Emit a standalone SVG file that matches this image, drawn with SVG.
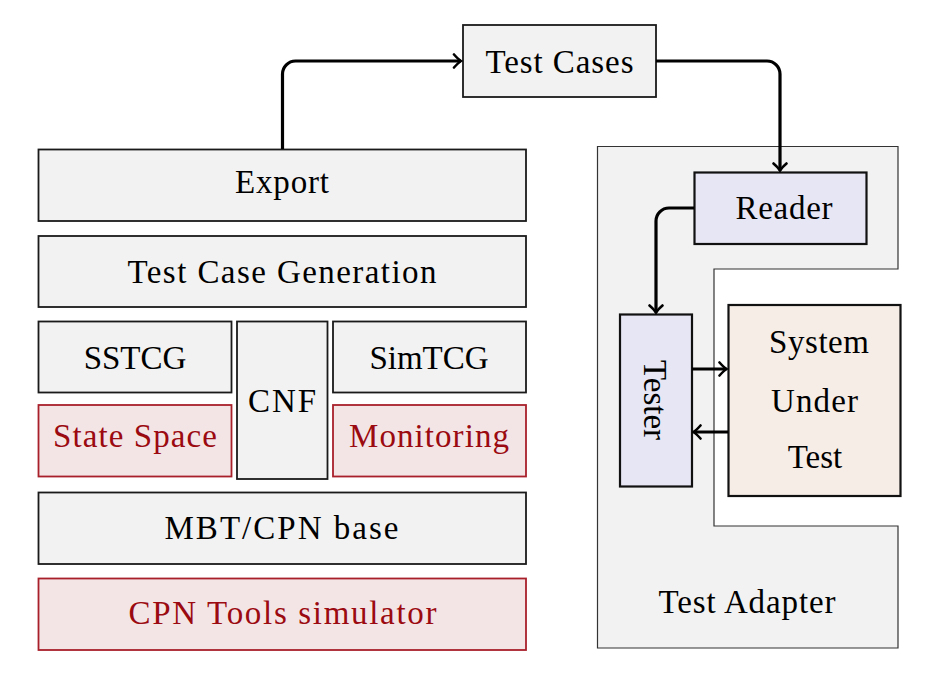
<svg xmlns="http://www.w3.org/2000/svg" width="946" height="680" viewBox="0 0 946 680">
<defs>
<style>
.box{fill:#f2f2f2;stroke:#1a1a1a;stroke-width:1.8}
.red{fill:#f3e5e6;stroke:#a8202a;stroke-width:1.8}
.lav{fill:#e6e6f4;stroke:#111;stroke-width:2.2}
.sut{fill:#f6ede6;stroke:#111;stroke-width:2.2}
.adapter{fill:#f2f2f2;stroke:#333;stroke-width:1.2}
text{font-family:"Liberation Serif","DejaVu Serif",serif;font-size:33px;fill:#000;text-anchor:middle}
.rt{fill:#9b0a10}
.conn{fill:none;stroke:#000;stroke-width:3.2}
</style>
<marker id="arr" viewBox="-10 -8 12 16" markerWidth="12" markerHeight="16" refX="0" refY="0" orient="auto" markerUnits="userSpaceOnUse">
<path d="M-7,-6.5 Q-2.5,-1.5 0,0 Q-2.5,1.5 -7,6.5" fill="none" stroke="#000" stroke-width="2.6" stroke-linecap="round"/>
</marker>
</defs>

<g id="test-adapter">
<path class="adapter" d="M597.5,146.5 H898 V269 H714 V526 H898 V648 H597.5 Z"/>
<text x="747" y="613" textLength="177" lengthAdjust="spacing">Test Adapter</text>
</g>

<g id="test-cases">
<rect class="box" x="463" y="25" width="193" height="72"/>
<text x="559.5" y="73" textLength="148" lengthAdjust="spacing">Test Cases</text>
</g>

<g id="export">
<rect class="box" x="38.5" y="149.5" width="487.5" height="71.5"/>
<text x="282" y="193" textLength="94" lengthAdjust="spacing">Export</text>
</g>

<g id="test-case-generation">
<rect class="box" x="38.5" y="236" width="487.5" height="71"/>
<text x="282" y="283" textLength="309" lengthAdjust="spacing">Test Case Generation</text>
</g>

<g id="sstcg">
<rect class="box" x="38.5" y="321.5" width="193" height="71"/>
<text x="135" y="369">SSTCG</text>
</g>

<g id="cnf">
<rect class="box" x="237" y="321.5" width="90.5" height="157.5"/>
<text x="282" y="411.5" textLength="68" lengthAdjust="spacing">CNF</text>
</g>

<g id="simtcg">
<rect class="box" x="333" y="321.5" width="193" height="71"/>
<text x="429" y="369">SimTCG</text>
</g>

<g id="state-space">
<rect class="red" x="38.5" y="405" width="193" height="71.5"/>
<text class="rt" x="135" y="447" textLength="164" lengthAdjust="spacing">State Space</text>
</g>

<g id="monitoring">
<rect class="red" x="333" y="405" width="193" height="71.5"/>
<text class="rt" x="429" y="447" textLength="160" lengthAdjust="spacing">Monitoring</text>
</g>

<g id="mbt-cpn-base">
<rect class="box" x="38.5" y="492.5" width="487.5" height="71.5"/>
<text x="281.5" y="539" textLength="234" lengthAdjust="spacing">MBT/CPN base</text>
</g>

<g id="cpn-tools-simulator">
<rect class="red" x="38.5" y="578.5" width="487.5" height="71.5"/>
<text class="rt" x="282.5" y="624" textLength="308" lengthAdjust="spacing">CPN Tools simulator</text>
</g>

<g id="reader">
<rect class="lav" x="694.5" y="172.5" width="172" height="71.5"/>
<text x="784" y="219" textLength="97" lengthAdjust="spacing">Reader</text>
</g>

<g id="tester">
<rect class="lav" x="620" y="314.5" width="72" height="172"/>
<text transform="translate(644,400) rotate(90)" x="0" y="0">Tester</text>
</g>

<g id="system-under-test">
<rect class="sut" x="728.5" y="305" width="172" height="191"/>
<text x="819" y="353" textLength="100" lengthAdjust="spacing">System</text>
<text x="814.5" y="411.5" textLength="87" lengthAdjust="spacing">Under</text>
<text x="815" y="468">Test</text>
</g>

<g id="connectors">
<path class="conn" d="M282.5,149 V74 A13,13 0 0 1 295.5,61 H461" marker-end="url(#arr)"/>
<path class="conn" d="M656,61 H767 A13,13 0 0 1 780,74 V170.5" marker-end="url(#arr)"/>
<path class="conn" d="M694,208 H669 A13,13 0 0 0 656,221 V312.5" marker-end="url(#arr)"/>
<path class="conn" d="M692,369 H726.5" marker-end="url(#arr)"/>
<path class="conn" d="M728,432 H693.5" marker-end="url(#arr)"/>
</g>
</svg>
